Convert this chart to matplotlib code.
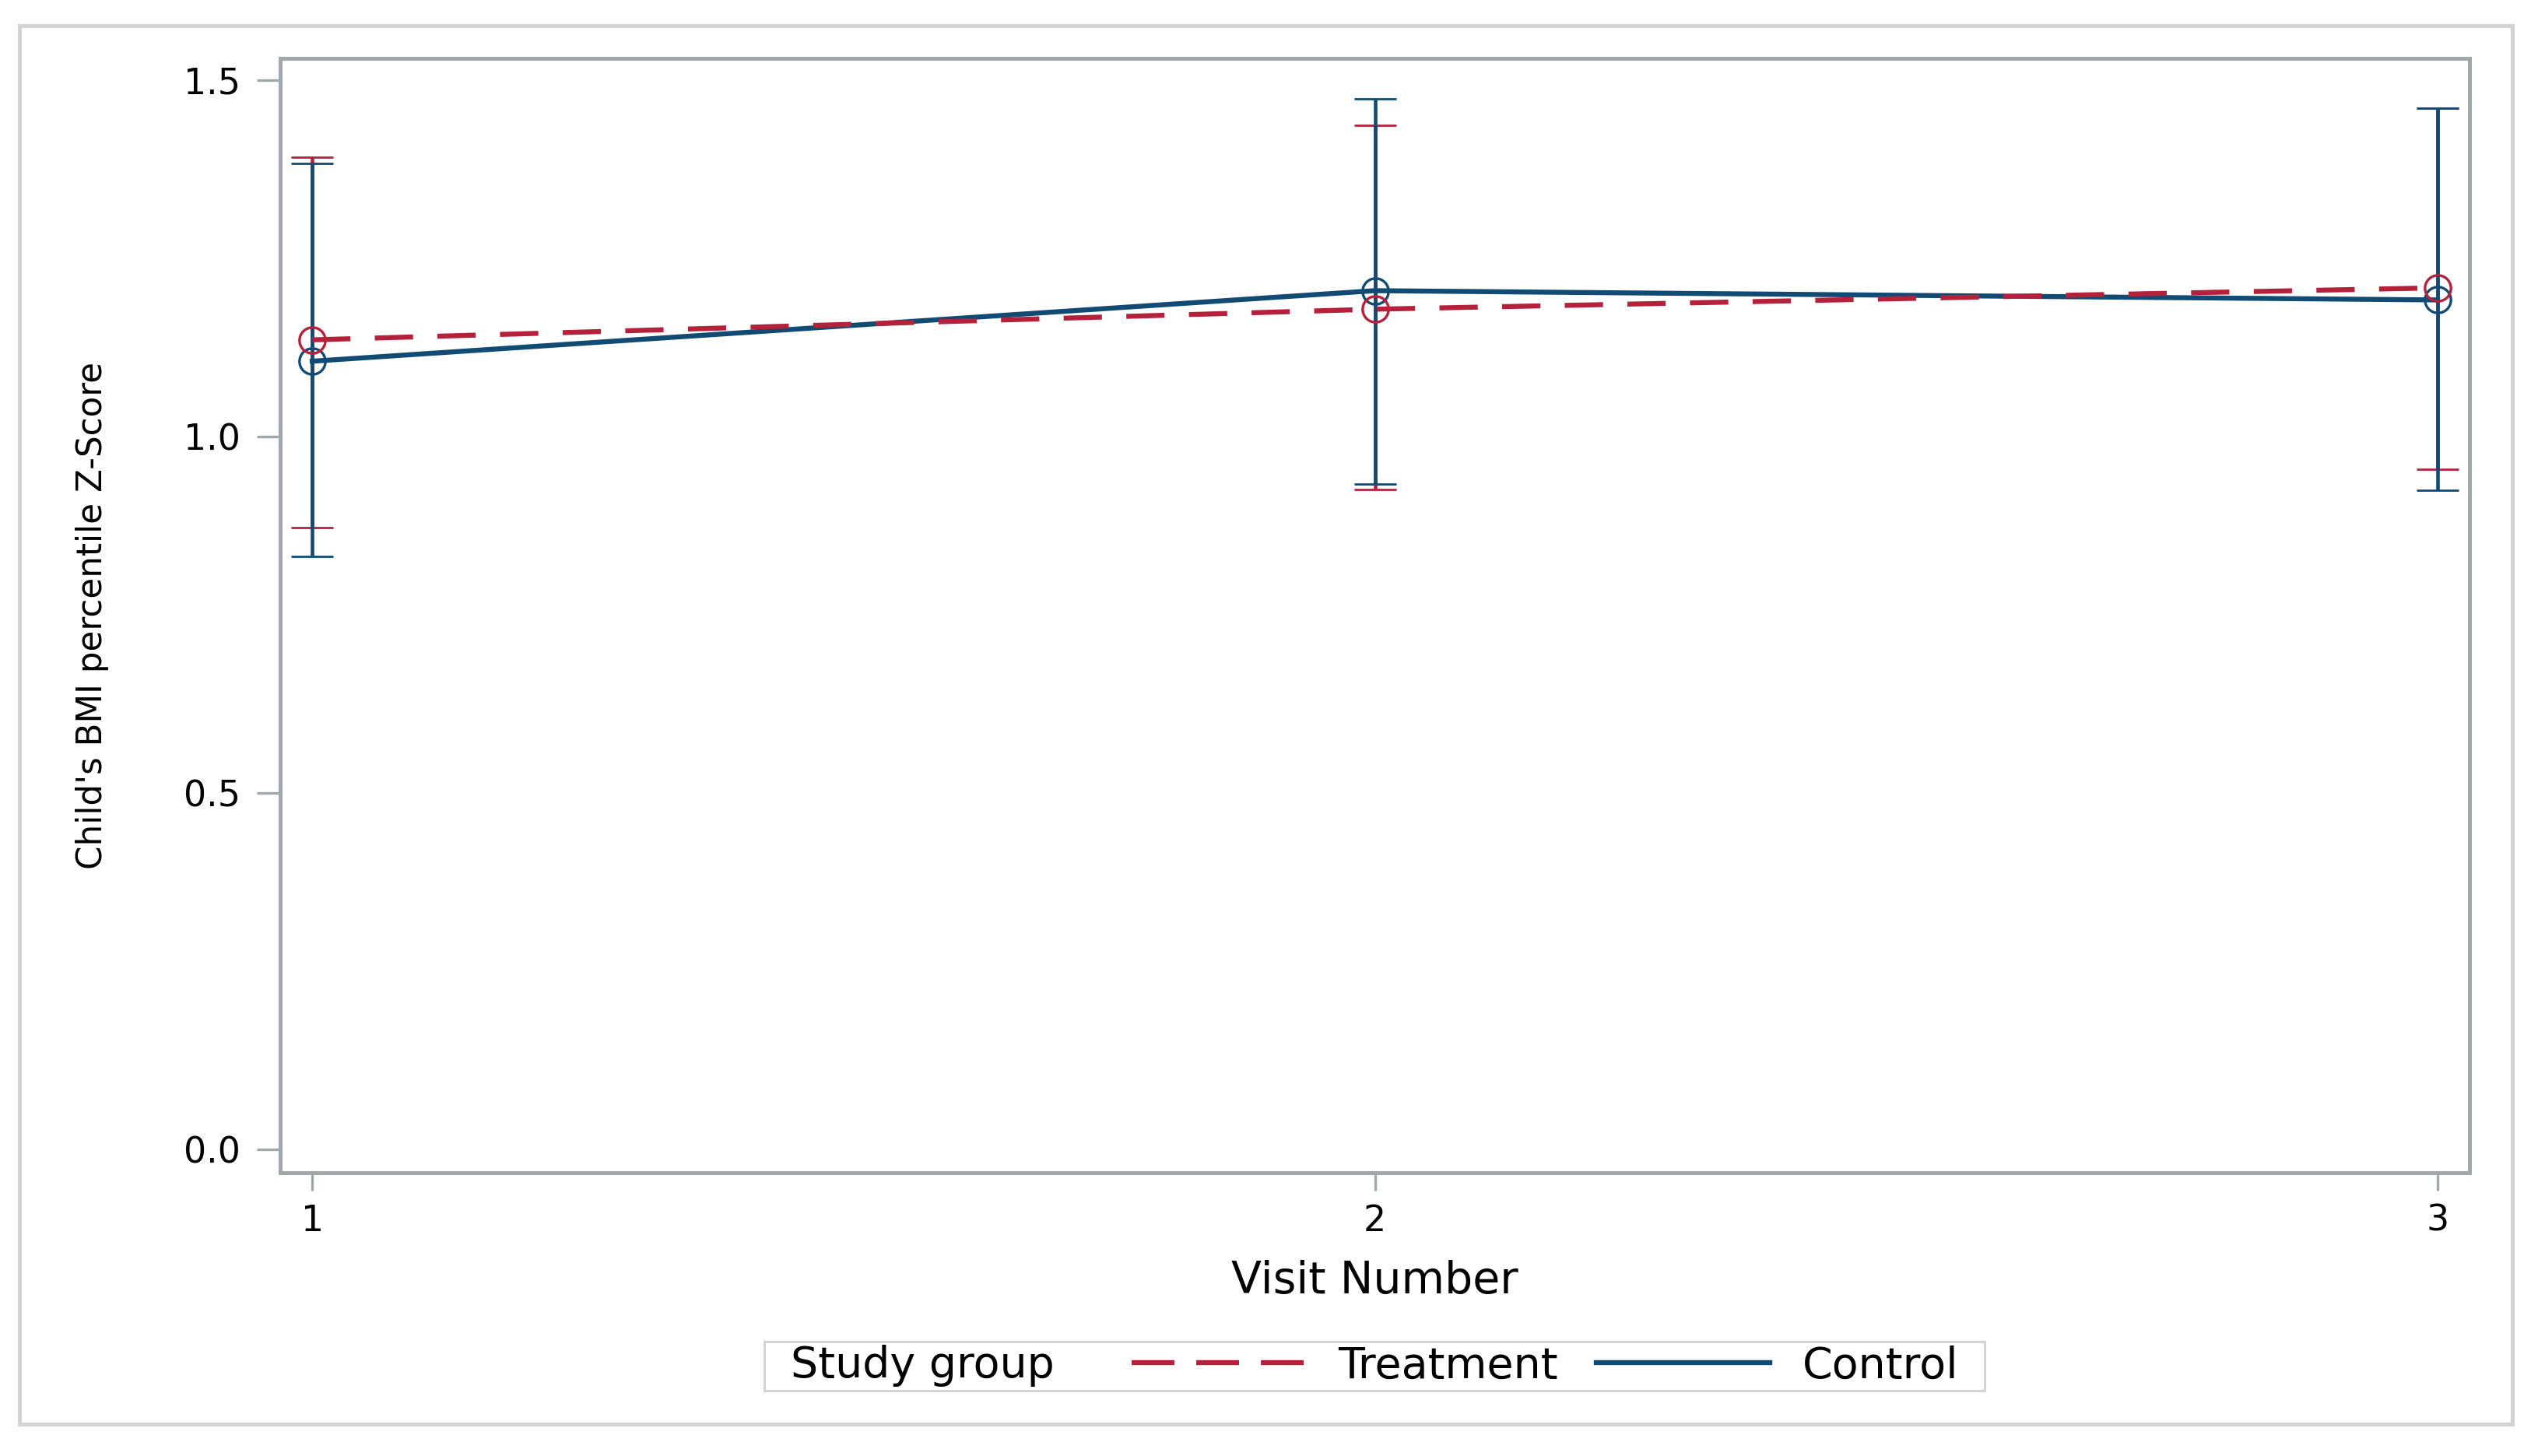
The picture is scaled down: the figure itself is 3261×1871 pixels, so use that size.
import matplotlib
matplotlib.use("Agg")
import matplotlib.pyplot as plt
from matplotlib.lines import Line2D
from matplotlib.patches import Rectangle
from matplotlib.offsetbox import HPacker
from matplotlib import font_manager

# ---- data ----
visits = [1, 2, 3]
visit_labels = ["1", "2", "3"]
treat_mean = [1.136, 1.179, 1.209]
treat_lower = [0.872, 0.926, 0.954]
treat_upper = [1.392, 1.437, 1.461]
ctrl_mean = [1.106, 1.205, 1.192]
ctrl_lower = [0.832, 0.934, 0.925]
ctrl_upper = [1.384, 1.474, 1.461]
y_ticks = [0.0, 0.5, 1.0, 1.5]
y_tick_labels = ["0.0", "0.5", "1.0", "1.5"]
series_names = ["Treatment", "Control"]
legend_title = "Study group"
x_title = "Visit Number"
y_title = "Child's BMI percentile Z-Score"

RED = "#B5203B"
BLUE = "#114B74"
GRAY = "#A0A8AA"
LIGHT = "#D3D3D3"

W, H, DPI = 3262, 1871, 200
fig = plt.figure(figsize=(W / DPI, H / DPI), dpi=DPI)
fig.patch.set_facecolor("white")

ax = fig.add_axes([0.1104, 0.1945, 0.9727 - 0.1104, 0.9599 - 0.1945])

lw_line = 2.3
dash = (7.7, 4.9)

def yerr(mean, lo, hi):
    return [[m - l for m, l in zip(mean, lo)], [h - m for m, h in zip(mean, hi)]]

ax.errorbar(visits, treat_mean, yerr=yerr(treat_mean, treat_lower, treat_upper),
            fmt="none", ecolor=RED, elinewidth=1.65, capsize=9.7, capthick=1.0, zorder=2)
ax.errorbar(visits, ctrl_mean, yerr=yerr(ctrl_mean, ctrl_lower, ctrl_upper),
            fmt="none", ecolor=BLUE, elinewidth=1.65, capsize=9.7, capthick=1.0, zorder=3)

ax.plot(visits, treat_mean, color=RED, lw=lw_line, dashes=dash, marker="o",
        markersize=12, markerfacecolor="none", markeredgecolor=RED,
        markeredgewidth=1.2, zorder=5)
ax.plot(visits, ctrl_mean, color=BLUE, lw=lw_line, ls="-", marker="o",
        markersize=12, markerfacecolor="none", markeredgecolor=BLUE,
        markeredgewidth=1.2, zorder=4)

ax.set_xlim(0.97, 3.03)
ax.set_ylim(-0.033, 1.531)
ax.set_xticks(visits, visit_labels)
ax.set_yticks(y_ticks, y_tick_labels)

for s in ax.spines.values():
    s.set_color(GRAY)
    s.set_linewidth(1.8)

ax.tick_params(axis="y", length=10.8, width=1.2, color=GRAY, pad=7.6,
               labelsize=16.5, labelcolor="black")
ax.tick_params(axis="x", length=8.3, width=1.2, color=GRAY, pad=6,
               labelsize=16.5, labelcolor="black")

ax.set_xlabel(x_title, fontsize=20.5, color="black")
ax.xaxis.set_label_coords(0.5, -0.1082)
ax.xaxis.label.set_va("baseline")

names = {f.name for f in font_manager.fontManager.ttflist}
if "Liberation Sans Narrow" in names:
    ax.set_ylabel(y_title, fontsize=21.3, family="Liberation Sans Narrow", color="black")
else:
    ax.set_ylabel(y_title, fontsize=15.7, color="black")
ax.yaxis.set_label_coords(-0.086, 0.5)
ax.yaxis.label.set_va("center")

# outer border
fig.patches.append(Rectangle((0.00766, 0.0219), 0.9896 - 0.00766, 0.9824 - 0.0219,
                             transform=fig.transFigure, fill=False, ec=LIGHT, lw=1.8))

# legend frame
lx0, lx1 = 982 / W, 2550 / W
ly0, ly1 = 1 - 1787 / H, 1 - 1724 / H
fig.patches.append(Rectangle((lx0, ly0), lx1 - lx0, ly1 - ly0,
                             transform=fig.transFigure, fill=False, ec=LIGHT, lw=1.1))

h_t = Line2D([], [], color=RED, lw=lw_line, dashes=(8.6, 4.4))
h_c = Line2D([], [], color=BLUE, lw=lw_line, ls="-")
leg = fig.legend(handles=[h_t, h_c], labels=series_names, title=legend_title,
                 ncol=2, loc="center", bbox_to_anchor=((lx0 + lx1) / 2, (ly0 + ly1) / 2),
                 frameon=False, fontsize=20, title_fontsize=20, handlelength=4.0,
                 handletextpad=0.76, columnspacing=0.9, borderpad=0, borderaxespad=0)
try:
    box = HPacker(pad=0, sep=36.0, align="center",
                  children=[leg._legend_title_box, leg._legend_handle_box])
    box.set_figure(fig)
    box.set_offset(leg._findoffset)
    leg._legend_box = box
except Exception:
    pass

fig.savefig("out.png", dpi=DPI, facecolor="white")
